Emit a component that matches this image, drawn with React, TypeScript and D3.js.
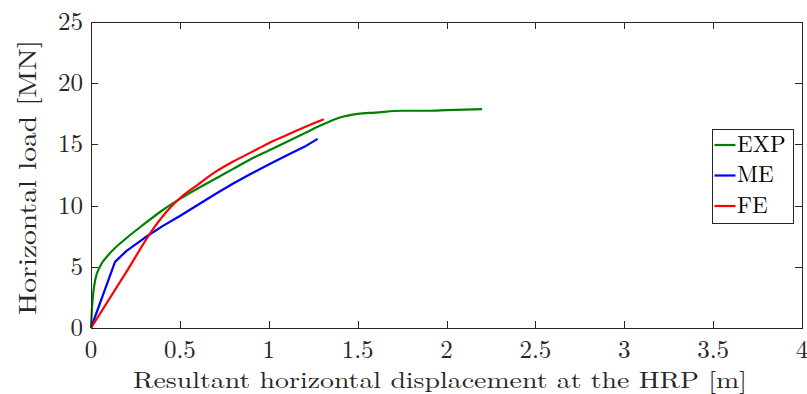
import React from "react";
import * as d3 from "d3";

const xTicks = [0, 0.5, 1, 1.5, 2, 2.5, 3, 3.5, 4];
const yTicks = [0, 5, 10, 15, 20, 25];

const expX = [0, 0.005, 0.013, 0.025, 0.05, 0.1, 0.2, 0.3, 0.4, 0.5, 0.6, 0.7, 0.8, 0.9, 1.0, 1.1, 1.2, 1.3, 1.4, 1.5, 1.6, 1.75, 1.9, 2.0, 2.2];
const expY = [0, 1.5, 2.9, 4.0, 5.0, 6.0, 7.35, 8.5, 9.6, 10.55, 11.4, 12.2, 13.0, 13.8, 14.5, 15.2, 15.9, 16.6, 17.2, 17.5, 17.6, 17.75, 17.75, 17.8, 17.88];

const meX = [0, 0.135, 0.2, 0.3, 0.4, 0.5, 0.6, 0.7, 0.8, 0.9, 1.0, 1.1, 1.2, 1.275];
const meY = [0, 5.4, 6.3, 7.35, 8.3, 9.15, 10.05, 10.95, 11.8, 12.6, 13.35, 14.1, 14.8, 15.45];

const feX = [0, 0.2, 0.35, 0.45, 0.5, 0.6, 0.7, 0.8, 0.9, 1.0, 1.1, 1.2, 1.31];
const feY = [0, 4.6, 8.1, 9.9, 10.6, 11.7, 12.75, 13.6, 14.35, 15.1, 15.75, 16.4, 17.05];

const seriesNames = ["EXP", "ME", "FE"];
const seriesColors = ["#008000", "#0000ff", "#ff0000"];

const xLabel = "Resultant horizontal displacement at the HRP [m]";
const yLabel = "Horizontal load [MN]";

export default function App() {
  const W = 807, H = 394;
  const L = 91, R = 802, T = 22, B = 328;
  const x = d3.scaleLinear().domain([0, 4]).range([L, R]);
  const y = d3.scaleLinear().domain([0, 25]).range([B, T]);
  const smooth = d3.line<[number, number]>().x(d => x(d[0])).y(d => y(d[1])).curve(d3.curveMonotoneX);
  const straight = d3.line<[number, number]>().x(d => x(d[0])).y(d => y(d[1]));
  const data = [
    d3.zip(expX, expY) as [number, number][],
    d3.zip(meX, meY) as [number, number][],
    d3.zip(feX, feY) as [number, number][],
  ];
  const gens = [smooth, straight, smooth];
  const axisColor = "#262626";
  const ts = { fontFamily: '"Latin Modern Roman", "Liberation Serif", serif' };
  const tickLen = 7;
  const legX = 712, legY = 129, legW = 81, legH = 94;
  const legRows = [145, 175.5, 206];
  return (
    <svg width={W} height={H} style={{ position: "absolute", left: 0, top: 0, background: "#fff" }}>
      <rect x={0} y={0} width={W} height={H} fill="#fff" />
      {data.map((d, i) => (
        <path key={i} d={gens[i](d) || ""} fill="none" stroke={seriesColors[i]} strokeWidth={2.2} strokeLinejoin="round" />
      ))}
      <rect x={L + 0.5} y={T + 0.5} width={R - L} height={B - T} fill="none" stroke={axisColor} strokeWidth={1} />
      {xTicks.map(t => (
        <g key={"x" + t}>
          <line x1={Math.round(x(t)) + 0.5} x2={Math.round(x(t)) + 0.5} y1={B} y2={B - tickLen} stroke={axisColor} />
          <line x1={Math.round(x(t)) + 0.5} x2={Math.round(x(t)) + 0.5} y1={T} y2={T + tickLen} stroke={axisColor} />
          <text x={x(t)} y={358} textAnchor="middle" style={ts} fontSize={25} fill={axisColor}>{String(t)}</text>
        </g>
      ))}
      {yTicks.map(t => (
        <g key={"y" + t}>
          <line x1={L} x2={L + tickLen} y1={Math.round(y(t)) + 0.5} y2={Math.round(y(t)) + 0.5} stroke={axisColor} />
          <line x1={R} x2={R - tickLen} y1={Math.round(y(t)) + 0.5} y2={Math.round(y(t)) + 0.5} stroke={axisColor} />
          <text x={83} y={y(t) + 8} textAnchor="end" style={ts} fontSize={25} fill={axisColor}>{String(t)}</text>
        </g>
      ))}
      <text x={440} y={387.5} textAnchor="middle" style={ts} fontSize={23} fill={axisColor} textLength={614} lengthAdjust="spacingAndGlyphs">{xLabel}</text>
      <text transform={`translate(35.5,177.5) rotate(-90)`} textAnchor="middle" style={ts} fontSize={25} fill={axisColor} textLength={275} lengthAdjust="spacingAndGlyphs">{yLabel}</text>
      <rect x={legX + 0.5} y={legY + 0.5} width={legW} height={legH} fill="#fff" stroke={axisColor} strokeWidth={1} />
      {seriesNames.map((n, i) => {
        const cy = legRows[i];
        return (
          <g key={n}>
            <line x1={714.5} x2={735.5} y1={cy} y2={cy} stroke={seriesColors[i]} strokeWidth={2.2} />
            <text x={737} y={cy + 6.5} style={ts} fontSize={23} fill="#000">{n}</text>
          </g>
        );
      })}
    </svg>
  );
}
